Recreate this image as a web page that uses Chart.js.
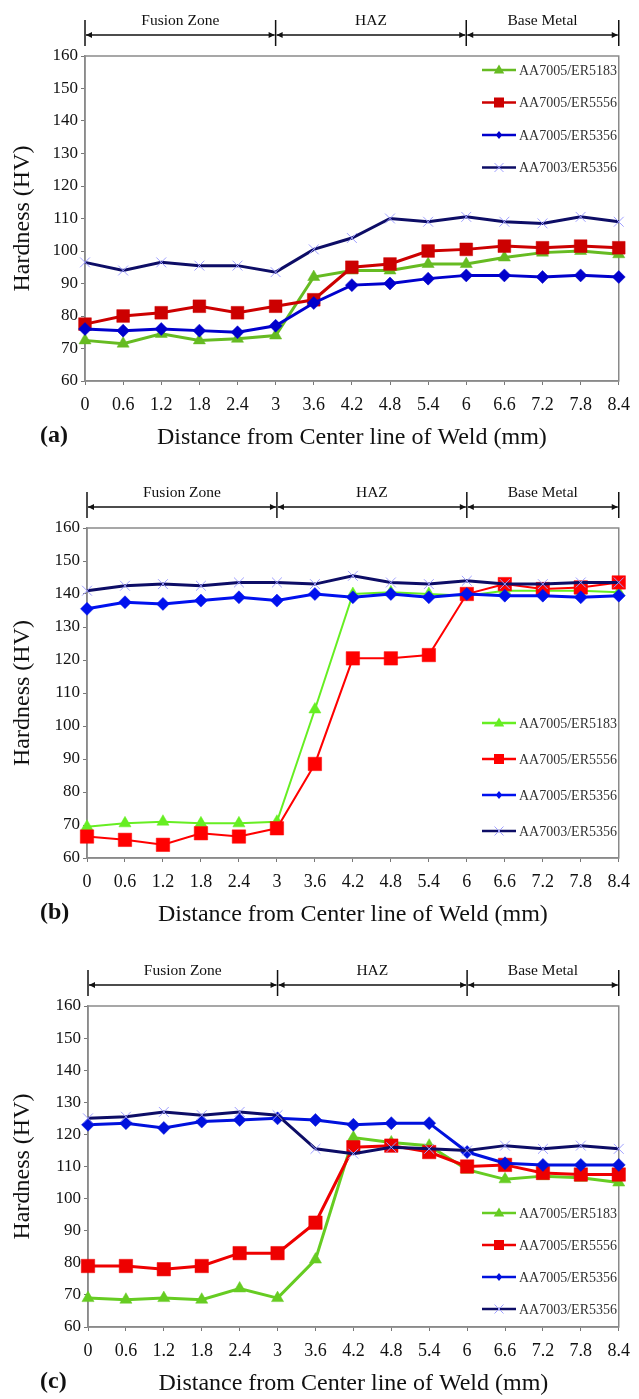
<!DOCTYPE html>
<html>
<head>
<meta charset="utf-8">
<title>Hardness profiles across the weld</title>
<script src="https://cdn.jsdelivr.net/npm/chart.js@4.4.1/dist/chart.umd.min.js"></script>
<style>
  html, body { margin: 0; padding: 0; background: #fff; }
  canvas { display: block; }
</style>
</head>
<body>
<canvas id="chart-a" width="639" height="470"></canvas>
<canvas id="chart-b" width="639" height="478"></canvas>
<canvas id="chart-c" width="639" height="451"></canvas>

<script>
// x categories: distance from weld centre line (mm)
const distances = ['0', '0.6', '1.2', '1.8', '2.4', '3', '3.6', '4.2', '4.8', '5.4', '6', '6.6', '7.2', '7.8', '8.4'];
const seriesNames = ['AA7005/ER5183', 'AA7005/ER5556', 'AA7005/ER5356', 'AA7003/ER5356'];
const zoneNames = ['Fusion Zone', 'HAZ', 'Base Metal'];
const zoneEdges = ['0', '3', '6', '8.4'];
const hardnessMin = 60;
const hardnessMax = 160;
const hardnessStep = 10;

// panel (a)
const aEr5183 = [72.5, 71.5, 74.5, 72.5, 73, 74, 92, 94, 94, 96, 96, 98, 99.5, 100, 99];
const aEr5556 = [77.5, 80, 81, 83, 81, 83, 85, 95, 96, 100, 100.5, 101.5, 101, 101.5, 101];
const aEr5356 = [76, 75.5, 76, 75.5, 75, 77, 84, 89.5, 90, 91.5, 92.5, 92.5, 92, 92.5, 92];
const a7003Er5356 = [96.5, 94, 96.5, 95.5, 95.5, 93.5, 100.5, 104, 110, 109, 110.5, 109, 108.5, 110.5, 109];

// panel (b)
const bEr5183 = [69.5, 70.5, 71, 70.5, 70.5, 71, 105, 140, 140.5, 140, 139.5, 141, 141, 141, 140.5];
const bEr5556 = [66.5, 65.5, 64, 67.5, 66.5, 69, 88.5, 120.5, 120.5, 121.5, 140, 143, 141.5, 142, 143.5];
const bEr5356 = [135.5, 137.5, 137, 138, 139, 138, 140, 139, 140, 139, 140, 139.5, 139.5, 139, 139.5];
const b7003Er5356 = [141, 142.5, 143, 142.5, 143.5, 143.5, 143, 145.5, 143.5, 143, 144, 143, 143, 143.5, 143.5];

// panel (c)
const cEr5183 = [69, 68.5, 69, 68.5, 72, 69, 81, 119, 117.5, 116.5, 109, 106, 107, 106.5, 105];
const cEr5556 = [79, 79, 78, 79, 83, 83, 92.5, 116, 116.5, 114.5, 110, 110.5, 108, 107.5, 107.5];
const cEr5356 = [123, 123.5, 122, 124, 124.5, 125, 124.5, 123, 123.5, 123.5, 114.5, 111, 110.5, 110.5, 110.5];
const c7003Er5356 = [125, 125.5, 127, 126, 127, 126, 115.5, 114, 116, 115.5, 115, 116.5, 115.5, 116.5, 115.5];

const SERIF = "'Liberation Serif', 'Times New Roman', serif";

// -----------------------------------------------
// Small drawing helpers
// -----------------------------------------------
function drawMarker(ctx, style, x, y, r, fill, stroke) {
    ctx.beginPath();
    if (style === 'triangle') {
        ctx.moveTo(x, y - r);
        ctx.lineTo(x + r * 0.95, y + r * 0.65);
        ctx.lineTo(x - r * 0.95, y + r * 0.65);
        ctx.closePath();
    } else if (style === 'rect') {
        ctx.rect(x - r, y - r, 2 * r, 2 * r);
    } else if (style === 'rectRot') {
        ctx.moveTo(x, y - r);
        ctx.lineTo(x + r * 0.8, y);
        ctx.lineTo(x, y + r);
        ctx.lineTo(x - r * 0.8, y);
        ctx.closePath();
    } else {
        ctx.moveTo(x - r, y - r); ctx.lineTo(x + r, y + r);
        ctx.moveTo(x + r, y - r); ctx.lineTo(x - r, y + r);
        ctx.strokeStyle = stroke;
        ctx.lineWidth = 1;
        ctx.stroke();
        return;
    }
    ctx.fillStyle = fill;
    ctx.fill();
}

// grey frame round the plot area, drawn under the lines
const plotFrame = {
    id: 'plotFrame',
    beforeDatasetsDraw(chart) {
        const {ctx, chartArea: a} = chart;
        ctx.save();
        ctx.strokeStyle = '#8a8a8a';
        ctx.lineWidth = 1.5;
        ctx.strokeRect(a.left, a.top, a.right - a.left, a.bottom - a.top);
        ctx.restore();
    }
};

// zone bar above the plot: |<--- Fusion Zone --->|<--- HAZ --->|<--- Base Metal --->|
const zoneBar = {
    id: 'zoneBar',
    afterDraw(chart) {
        const {ctx, chartArea} = chart;
        const xs = chart.scales.x;
        const px = zoneEdges.map(e => xs.getPixelForValue(distances.indexOf(e)));
        const yLine = chartArea.top - 21;
        ctx.save();
        ctx.strokeStyle = '#111';
        ctx.fillStyle = '#111';
        ctx.lineWidth = 1.5;
        px.forEach(x => {
            ctx.beginPath();
            ctx.moveTo(x, chartArea.top - 36);
            ctx.lineTo(x, chartArea.top - 10);
            ctx.stroke();
        });
        for (let i = 0; i < zoneNames.length; i++) {
            const x0 = px[i] + 1, x1 = px[i + 1] - 1;
            ctx.beginPath();
            ctx.moveTo(x0, yLine);
            ctx.lineTo(x1, yLine);
            ctx.stroke();
            // arrow heads pointing at the bars
            ctx.beginPath();
            ctx.moveTo(x0, yLine); ctx.lineTo(x0 + 6, yLine - 3); ctx.lineTo(x0 + 6, yLine + 3);
            ctx.closePath(); ctx.fill();
            ctx.beginPath();
            ctx.moveTo(x1, yLine); ctx.lineTo(x1 - 6, yLine - 3); ctx.lineTo(x1 - 6, yLine + 3);
            ctx.closePath(); ctx.fill();

            ctx.font = '15.5px ' + SERIF;
            ctx.textAlign = 'center';
            ctx.textBaseline = 'middle';
            ctx.fillText(zoneNames[i], (px[i] + px[i + 1]) / 2, chartArea.top - 35);
        }
        ctx.restore();
    }
};

// legend drawn inside the plot area, top right
const insideLegend = {
    id: 'insideLegend',
    afterDatasetsDraw(chart, args, opts) {
        const {ctx, chartArea} = chart;
        ctx.save();
        chart.data.datasets.forEach((ds, i) => {
            const y = chartArea.top + opts.top + i * opts.gap;
            const x0 = opts.x, x1 = opts.x + 34;
            ctx.strokeStyle = ds.borderColor;
            ctx.lineWidth = 2.5;
            ctx.beginPath();
            ctx.moveTo(x0, y);
            ctx.lineTo(x1, y);
            ctx.stroke();
            drawMarker(ctx, ds.pointStyle, (x0 + x1) / 2, y, ds.legendRadius, ds.pointBackgroundColor, ds.pointBorderColor);
            ctx.fillStyle = '#333';
            ctx.font = '14px ' + SERIF;
            ctx.textAlign = 'left';
            ctx.textBaseline = 'middle';
            ctx.fillText(ds.label, x1 + 3, y + 1);
        });
        ctx.restore();
    }
};

// (a) / (b) / (c) tag next to the x axis title
const panelTag = {
    id: 'panelTag',
    afterDraw(chart, args, opts) {
        const {ctx, chartArea} = chart;
        ctx.save();
        ctx.fillStyle = '#111';
        ctx.font = 'bold 24px ' + SERIF;
        ctx.textAlign = 'left';
        ctx.textBaseline = 'middle';
        ctx.fillText(opts.text, 40, chartArea.bottom + 55);
        ctx.restore();
    }
};

// -----------------------------------------------
// One panel = one line chart
// -----------------------------------------------
function makePanel(canvasId, values, look) {
    const markers = ['triangle', 'rect', 'rectRot', 'crossRot'];
    const datasets = values.map((v, i) => ({
        label: seriesNames[i],
        data: v,
        borderColor: look.colors[i],
        borderWidth: look.widths[i],
        pointStyle: markers[i],
        pointRadius: look.radii[i],
        pointBackgroundColor: i === 3 ? '#9999ff' : look.colors[i],
        pointBorderColor: i === 3 ? '#9f9fff' : look.colors[i],
        pointBorderWidth: i === 3 ? 1 : 0.5,
        legendRadius: [5.5, 5, 4, 4.5][i],
        tension: 0,
        clip: false,
        order: 3 - i   // later series on top, like the original
    }));

    return new Chart(document.getElementById(canvasId), {
        type: 'line',
        data: { labels: distances, datasets: datasets },
        options: {
            responsive: false,
            animation: false,
            layout: { padding: { top: look.top, right: 0, left: 0, bottom: look.bottom } },
            plugins: {
                legend: { display: false },
                tooltip: { enabled: false },
                insideLegend: look.legend,
                panelTag: { text: look.tag }
            },
            scales: {
                x: {
                    afterFit: s => { s.height = 72; },
                    grid: { drawOnChartArea: false, tickLength: 4, color: '#777' },
                    border: { color: '#8a8a8a', width: 1.5 },
                    ticks: { color: '#111', padding: 9, maxRotation: 0, autoSkip: false, font: { family: SERIF, size: 18 } },
                    title: {
                        display: true,
                        text: 'Distance from Center line of Weld (mm)',
                        color: '#111',
                        padding: { top: 0, bottom: 1 },
                        font: { family: SERIF, size: 24 }
                    }
                },
                y: {
                    min: hardnessMin,
                    max: hardnessMax,
                    afterFit: s => { s.width = look.yWidth; },
                    grid: { drawOnChartArea: false, tickLength: 4, color: '#777' },
                    border: { color: '#8a8a8a', width: 1.5 },
                    ticks: { stepSize: hardnessStep, color: '#111', padding: 3, font: { family: SERIF, size: 17 } },
                    title: {
                        display: true,
                        text: 'Hardness (HV)',
                        color: '#111',
                        padding: { top: 8, bottom: 0 },
                        font: { family: SERIF, size: 24 }
                    }
                }
            }
        },
        plugins: [plotFrame, zoneBar, insideLegend, panelTag]
    });
}

document.addEventListener('DOMContentLoaded', function() {
    makePanel('chart-a', [aEr5183, aEr5556, aEr5356, a7003Er5356], {
        tag: '(a)', top: 56, bottom: 17, yWidth: 85,
        colors: ['#66bb22', '#cc0000', '#0000cc', '#0d0d66'],
        widths: [3, 3, 3, 3],
        radii: [7, 9, 6.5, 7],
        legend: { x: 482, top: 14, gap: 32.5 }
    });
    makePanel('chart-b', [bEr5183, bEr5556, bEr5356, b7003Er5356], {
        tag: '(b)', top: 58, bottom: 18, yWidth: 87,
        colors: ['#66ee22', '#ff0000', '#0011ee', '#0d0d66'],
        widths: [2, 2, 3, 3],
        radii: [7, 9.5, 6.5, 7],
        legend: { x: 482, top: 195, gap: 36 }
    });
    makePanel('chart-c', [cEr5183, cEr5556, cEr5356, c7003Er5356], {
        tag: '(c)', top: 58, bottom: 0, yWidth: 88,
        colors: ['#66cc22', '#ee0000', '#0011dd', '#0d0d66'],
        widths: [3, 3, 3, 3],
        radii: [7, 9.5, 6.5, 7],
        legend: { x: 482, top: 207, gap: 32 }
    });
});
</script>
</body>
</html>
